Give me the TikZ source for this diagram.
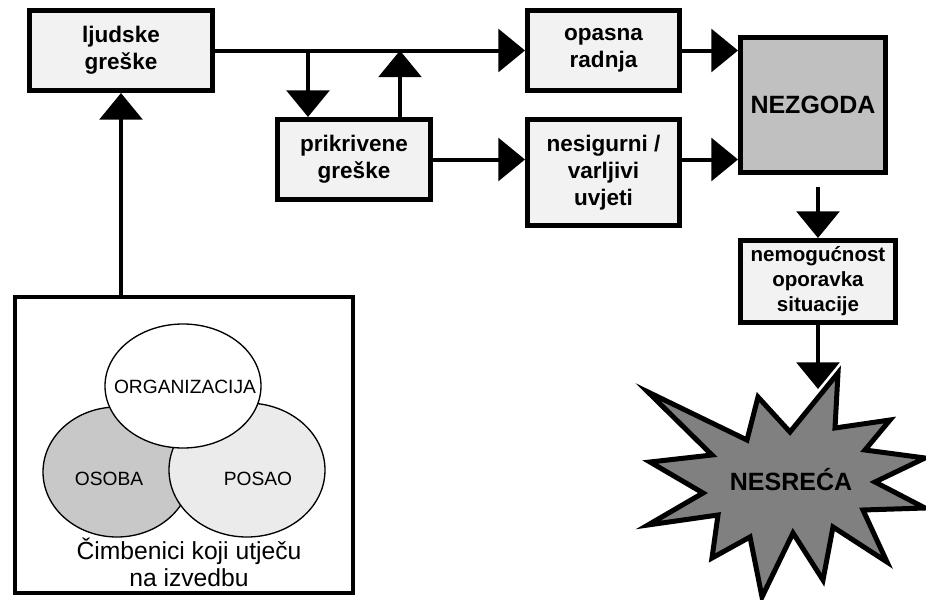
\documentclass[tikz,border=0pt]{standalone}
\usepackage{fontspec}
\setmainfont{Liberation Sans}
\usetikzlibrary{arrows.meta, positioning, calc}

\definecolor{boxgray}{HTML}{F2F2F2}
\definecolor{nezgray}{HTML}{C0C0C0}
\definecolor{stargray}{HTML}{808080}
\definecolor{osobagray}{HTML}{C8C8C8}
\definecolor{posaogray}{HTML}{EBEBEB}

\begin{document}
\begin{tikzpicture}[x=0.75pt, y=-0.75pt,
    blk/.style={draw, rectangle, line width=3.75pt, fill=boxgray, align=center, inner sep=0pt,
        minimum width=114pt, minimum height=60pt, font=\fontsize{16.9}{20.25}\selectfont\bfseries},
    arr/.style={line width=3pt, -{Triangle[width=32pt, length=20pt]}},
    venn/.style={draw, line width=1pt},
    vtext/.style={inner sep=0pt, font=\fontsize{14.4}{16}\selectfont}]
        \useasboundingbox (0,0) rectangle (926,600);
        % Error chain, top row
        \node[blk, minimum width=137.25pt] (ljudske) at (121,50.5) {ljudske\\greške};
        \node[blk, right=232.5pt of ljudske] (opasna) {opasna\\radnja};
        \node[blk, minimum width=114.75pt] (prikrivene) at (354,159.5) {prikrivene\\greške};
        \node[blk, below=18pt of opasna, minimum height=79.5pt] (nesigurni) {nesigurni /\\varljivi\\uvjeti};
        \node[blk, fill=nezgray, minimum width=108.75pt, minimum height=101.25pt,
            font=\fontsize{18.75}{22}\selectfont\bfseries] (nezgoda) at (813,105) {NEZGODA};
        \node[blk, minimum width=116.25pt, minimum height=61.5pt,
            font=\fontsize{15.4}{18.75}\selectfont\bfseries] (nemo) at (818,281.5) {nemogućnost\\oporavka\\situacije};

        % Factors box with the three circles
        \node[draw, rectangle, line width=3pt, fill=white, minimum width=253.5pt, minimum height=222pt] (factors) at (184,445) {};
        \draw[venn, fill=osobagray] (117,472) ellipse [x radius=55.5pt, y radius=48.75pt];
        \draw[venn, fill=posaogray] (247,470) ellipse [x radius=58.5pt, y radius=50.25pt];
        \draw[venn, fill=white] (183,386) ellipse [x radius=58.5pt, y radius=46.5pt];
        \node[vtext] (org) at (185,387) {ORGANIZACIJA};
        \node[vtext] (osoba) at (109,479) {OSOBA};
        \node[vtext] (posao) at (258,479) {POSAO};
        \node[align=center, inner sep=0pt, font=\fontsize{18.5}{20.25}\selectfont] (caption) at (189,562) {Čimbenici koji utječu\\na izvedbu};

        % Burst
        \draw[line width=3.75pt, fill=stargray] (648,392) -- (747,440) -- (758,397) -- (790,432) -- (838,373)
            -- (835,428) -- (890,420) -- (865,450) -- (925,458) -- (875,482) -- (925,508) -- (863,510)
            -- (887,562) -- (833,527) -- (823,580) -- (793,533) -- (762,597) -- (750,537) -- (712,558)
            -- (718,515) -- (648,525) -- (703,493) -- (650,462) -- (712,455) -- cycle;
        \node[inner sep=0pt, font=\fontsize{18.75}{22}\selectfont\bfseries] (nesreca) at (791,480) {NESREĆA};

        \coordinate (down) at (308,50.5);
        \coordinate (up) at (400,50.5);
        \coordinate (gap) at (818,187);
        \coordinate (hit) at (818,389);

        \draw[arr] (ljudske) -- (opasna);
        \draw[arr] (down) -- (down |- prikrivene.north);
        \draw[arr] (up |- prikrivene.north) -- (up);
        \draw[arr] (prikrivene.east) -- (prikrivene.east -| nesigurni.west);
        \draw[arr] (opasna.east) -- (opasna.east -| nezgoda.west);
        \draw[arr] (nesigurni.east |- prikrivene.east) -- (nezgoda.west |- prikrivene.east);
        \draw[arr] (factors.north -| ljudske.south) -- (ljudske.south);
        \draw[arr] (gap) -- (nemo.north);
        \draw[arr] (nemo.south) -- (hit);
    \end{tikzpicture}
\end{document}
